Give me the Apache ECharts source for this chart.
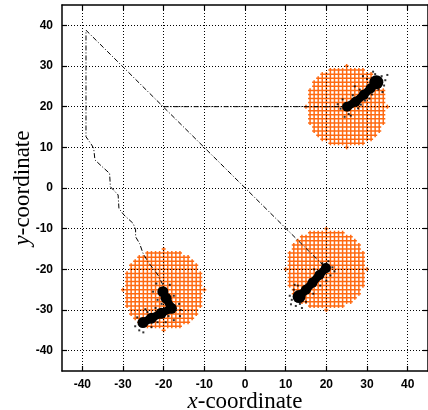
<!DOCTYPE html>
<html>
<head>
<meta charset="utf-8">
<style>
html, body { margin: 0; padding: 0; background: #fff; }
#chartmain { width: 428px; height: 410px; }
</style>
<script src="https://cdn.jsdelivr.net/npm/echarts@6/dist/echarts.min.js"></script>
</head>
<body>
<div id="chartmain"></div>
<script>
// tick values for both axes
var tickValues = [-40, -30, -20, -10, 0, 10, 20, 30, 40];

// centres of the orange discs, radius in coordinate units
var discCenters = [[25, 20], [20, -20], [-20, -25]];
var discRadius = 10;

// dash-dot trajectories
var pathLong = [
    [-20.2, -23.8], [-21.4, -21.4], [-23.9, -18.1], [-25.1, -16], [-25.9, -13.7],
    [-26.9, -12], [-26.9, -10.3], [-27.5, -8.7], [-29.8, -6.6], [-31.0, -5.0],
    [-31.2, -1.7], [-33.1, 0.3], [-33.3, 3.6], [-35.3, 5.4], [-36.9, 6.9],
    [-37.2, 9.7], [-37.7, 10.6], [-39.1, 12.6], [-39.1, 38.8], [19.5, -19.3]
];
var pathFlat = [[-20, 20], [25, 20]];

// dense black clusters (blob centres)
var blobsTR = [[25.1, 20.0], [27.2, 21.2], [29.2, 22.9], [30.9, 24.5], [32.3, 26.0]];
var blobsBR = [[13.3, -26.7], [15.0, -25.0], [16.6, -23.3], [18.3, -21.4], [19.9, -19.7]];
var blobsBL = [[-20.2, -25.5], [-19.4, -27.1], [-18.1, -29.6], [-20.6, -30.8], [-23.0, -32.0], [-25.1, -33.1]];

// scattered points round the clusters
var dotsTR = [
    [23.5, 19.5], [24, 21.8], [25.5, 18.2], [26.5, 22.8], [27.8, 19.6], [28.2, 24.2],
    [29.5, 21.5], [30, 26.8], [31.2, 23], [32, 28], [33.6, 27.5], [34.2, 25.2],
    [33.8, 23.6], [29, 27.5], [26, 17.8], [24.5, 17.5], [28.5, 20.5], [31.5, 28.6],
    [34.5, 26.5], [27, 25], [22.8, 20.6], [30.6, 22], [35, 27.8], [32.8, 24.2]
];
var dotsBR = [
    [11.5, -27.5], [12, -25], [12.5, -29], [13.5, -28.5], [14.5, -24.5], [15, -28],
    [16, -22.5], [16.8, -26], [17.5, -21], [18.5, -24], [19, -18.5], [20.5, -18],
    [21, -21.5], [21.5, -19.5], [11, -26.5], [14, -29.5], [17, -20], [12.2, -23.8],
    [22, -20.5], [20, -22.8], [15.6, -25.4], [11.3, -28.6], [13, -24]
];
var dotsBL = [
    [-21.8, -23.5], [-18.5, -23.8], [-21.5, -27.5], [-17.5, -26.5], [-16.2, -28.5],
    [-16, -31.5], [-17.5, -32.5], [-19.5, -33], [-22, -29.5], [-24, -30.5],
    [-26.5, -31.8], [-27, -34], [-25, -35.5], [-23, -34.2], [-20.5, -28.5],
    [-18.8, -31.5], [-21.5, -33], [-24.5, -29.8], [-15.8, -30], [-22.6, -25.5], [-26, -35]
];

var gridLineStyle = { type: [1, 2], color: '#000', width: 1 };
var markData = [];
for (var i = 0; i < tickValues.length; i++) {
    markData.push({ xAxis: tickValues[i] });
    markData.push({ yAxis: tickValues[i] });
}

function axisBase(show) {
    return {
        type: 'value', min: -45, max: 45,
        splitLine: { show: false },
        axisLine: { show: true, onZero: false, lineStyle: { color: '#000', width: 1.5 } },
        axisTick: { show: true, inside: true, length: 5, customValues: tickValues, lineStyle: { color: '#000', width: 1.2 } },
        axisLabel: {
            show: show, customValues: tickValues, color: '#000',
            fontFamily: 'Liberation Sans, Arial', fontSize: 12, fontWeight: 'bold'
        }
    };
}

var nameRich = {
    it: { fontFamily: 'Liberation Serif', fontStyle: 'italic', fontSize: 23, color: '#000' },
    n: { fontFamily: 'Liberation Serif', fontSize: 23, color: '#000' }
};

var xBottom = axisBase(true);
xBottom.position = 'bottom';
xBottom.axisLabel.margin = 8;
xBottom.name = '{it|x}{n|-coordinate}';
xBottom.nameLocation = 'middle';
xBottom.nameMoveOverlap = false;
xBottom.nameGap = 19;
xBottom.nameTextStyle = { rich: nameRich };
var xTop = axisBase(false);
xTop.position = 'top';

var yLeft = axisBase(true);
yLeft.position = 'left';
yLeft.axisLabel.margin = 9;
yLeft.name = '{it|y}{n|-coordinate}';
yLeft.nameLocation = 'middle';
yLeft.nameMoveOverlap = false;
yLeft.nameGap = 28;
yLeft.nameTextStyle = { rich: nameRich };
var yRight = axisBase(false);
yRight.position = 'right';

// orange lattice disc, drawn as crossing lines clipped to the circle
function renderDisc(params, api) {
    var cx = api.value(0), cy = api.value(1);
    var r = discRadius;
    var children = [];
    for (var k = -r; k <= r; k++) {
        var w = Math.floor(Math.sqrt(r * r - k * k)) + 0.5;
        var a = api.coord([cx - w, cy + k]);
        var b = api.coord([cx + w, cy + k]);
        children.push({ type: 'line', shape: { x1: a[0], y1: a[1], x2: b[0], y2: b[1] },
            style: { stroke: '#ff6a12', lineWidth: 1.5 } });
        var c = api.coord([cx + k, cy - w]);
        var d = api.coord([cx + k, cy + w]);
        children.push({ type: 'line', shape: { x1: c[0], y1: c[1], x2: d[0], y2: d[1] },
            style: { stroke: '#ff6a12', lineWidth: 1.5 } });
    }
    return { type: 'group', children: children };
}

function blobSeries(data, size) {
    return {
        type: 'line', data: data, z: 5,
        lineStyle: { color: '#000', width: 8, cap: 'round', join: 'round' },
        symbol: 'circle', symbolSize: size, showSymbol: true,
        itemStyle: { color: '#000' }
    };
}
function dotSeries(data) {
    return { type: 'scatter', data: data, z: 5, symbol: 'rect', symbolSize: 2, itemStyle: { color: '#000' } };
}

option = {
    animation: false,
    grid: { left: 62, right: 0, top: 5, bottom: 39, containLabel: false, outerBoundsMode: 'none' },
    xAxis: [xBottom, xTop],
    yAxis: [yLeft, yRight],
    series: [
        {
            type: 'custom', data: discCenters, renderItem: renderDisc, z: 1, silent: true
        },
        dotSeries(dotsTR),
        dotSeries(dotsBR),
        dotSeries(dotsBL),
        blobSeries(blobsTR, function (v, p) { return p.dataIndex == 4 ? 14 : 10; }),
        blobSeries(blobsBR, function (v, p) { return p.dataIndex == 0 ? 13 : 10; }),
        blobSeries(blobsBL, 11),
        {
            type: 'line', data: pathLong, z: 4, symbol: 'none',
            lineStyle: { color: '#000', width: 1, type: [5, 2, 1, 2] }
        },
        {
            type: 'line', data: pathFlat, z: 4, symbol: 'none',
            lineStyle: { color: '#000', width: 1, type: [5, 2, 1, 2] },
            markLine: {
                silent: true, symbol: ['none', 'none'], label: { show: false },
                lineStyle: gridLineStyle, emphasis: { disabled: true },
                data: markData
            }
        }
    ]
};

var myChart = echarts.init(document.getElementById('chartmain'));
myChart.setOption(option);
</script>
</body>
</html>
